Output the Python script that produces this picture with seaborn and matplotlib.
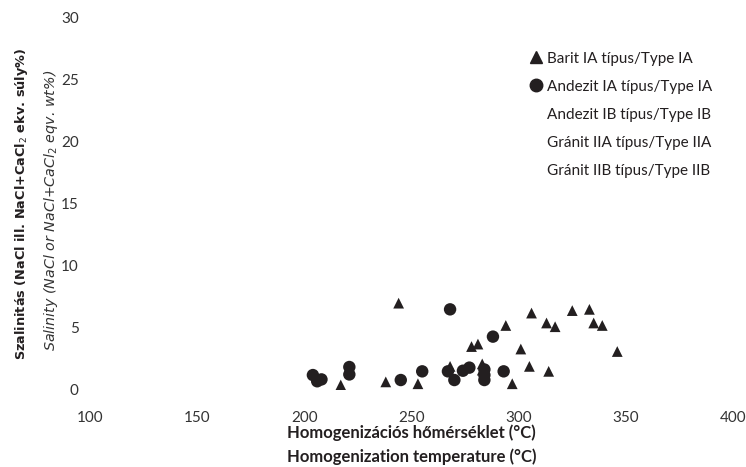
import pandas as pd
import matplotlib.pyplot as plt
import seaborn as sns
from matplotlib.lines import Line2D

# Datos
barit_temp = [244, 217, 238, 253, 268, 278, 281, 283, 283, 294, 297, 301, 305,
              306, 313, 314, 317, 325, 333, 335, 339, 346]
barit_sal = [7.0, 0.4, 0.65, 0.5, 1.9, 3.5, 3.7, 2.1, 1.6, 5.2, 0.5, 3.3, 1.9,
             6.2, 5.4, 1.5, 5.1, 6.4, 6.5, 5.4, 5.2, 3.1]

andezit_temp = [204, 206, 208, 221, 221, 245, 255, 267, 268, 270, 274, 277,
                284, 284, 284, 288, 293]
andezit_sal = [1.2, 0.7, 0.85, 1.85, 1.25, 0.8, 1.5, 1.5, 6.5, 0.8, 1.55, 1.8,
               1.65, 1.2, 0.8, 4.3, 1.5]

legend_labels = ["Barit IA típus/Type IA", "Andezit IA típus/Type IA",
                 "Andezit IB típus/Type IB", "Gránit IIA típus/Type IIA",
                 "Gránit IIB típus/Type IIB"]

x_ticks = [100, 150, 200, 250, 300, 350, 400]
y_ticks = [0, 5, 10, 15, 20, 25, 30]

df_barit = pd.DataFrame({"temp": barit_temp, "sal": barit_sal})
df_andezit = pd.DataFrame({"temp": andezit_temp, "sal": andezit_sal})

sns.set_style("white")
plt.rcParams['font.family'] = ['Lato', 'DejaVu Sans']

ink = "#231f20"

fig = plt.figure(figsize=(7.46, 4.67), dpi=100)
ax = fig.add_axes([0.1206, 0.165, 0.862, 0.7965])

sns.scatterplot(data=df_andezit, x="temp", y="sal", marker="o", s=80,
                color=ink, edgecolor="none", ax=ax)
sns.scatterplot(data=df_barit, x="temp", y="sal", marker="^", s=60,
                color=ink, edgecolor="none", ax=ax)

ax.set_xlim(100, 400)
ax.set_ylim(0, 30)
ax.set_xticks(x_ticks)
ax.set_yticks(y_ticks)
ax.tick_params(axis='x', length=0, pad=15, labelsize=11, colors="#333333")
ax.tick_params(axis='y', length=0, pad=8, labelsize=11, colors="#333333")
for s in ax.spines.values():
    s.set_visible(False)
ax.set_xlabel("")
ax.set_ylabel("")

# Etiquetas de ejes
fig.text(0.5515, 0.073, "Homogenizációs hőmérséklet (°C)", ha='center', va='center',
         fontsize=12, fontweight='bold', color=ink)
fig.text(0.5515, 0.021, "Homogenization temperature (°C)", ha='center', va='center',
         fontsize=12, fontweight='bold', color=ink)
fig.text(0.029, 0.564, "Szalinitás (NaCl ill. NaCl+CaCl$_2$ ekv. súly%)",
         rotation=90, ha='center', va='center', fontsize=9.3, fontweight='bold',
         color=ink, family='DejaVu Sans')
fig.text(0.068, 0.55, "Salinity (NaCl or NaCl+CaCl$_2$ eqv. wt%)",
         rotation=90, ha='center', va='center', fontsize=10.3, style='italic',
         color="#333333", family='DejaVu Sans')

# Leyenda
handles = [
    Line2D([], [], marker='^', color=ink, linestyle='none', markersize=8),
    Line2D([], [], marker='o', color=ink, linestyle='none', markersize=9),
    Line2D([], [], marker='none', linestyle='none'),
    Line2D([], [], marker='none', linestyle='none'),
    Line2D([], [], marker='none', linestyle='none'),
]
fig.legend(handles, legend_labels, loc='upper left', bbox_to_anchor=(0.700, 0.906),
           frameon=False, fontsize=11, labelspacing=0.93, handlelength=0.8,
           handletextpad=0.3, borderpad=0, labelcolor=ink)

fig.savefig("out.png", dpi=100)
plt.close()
